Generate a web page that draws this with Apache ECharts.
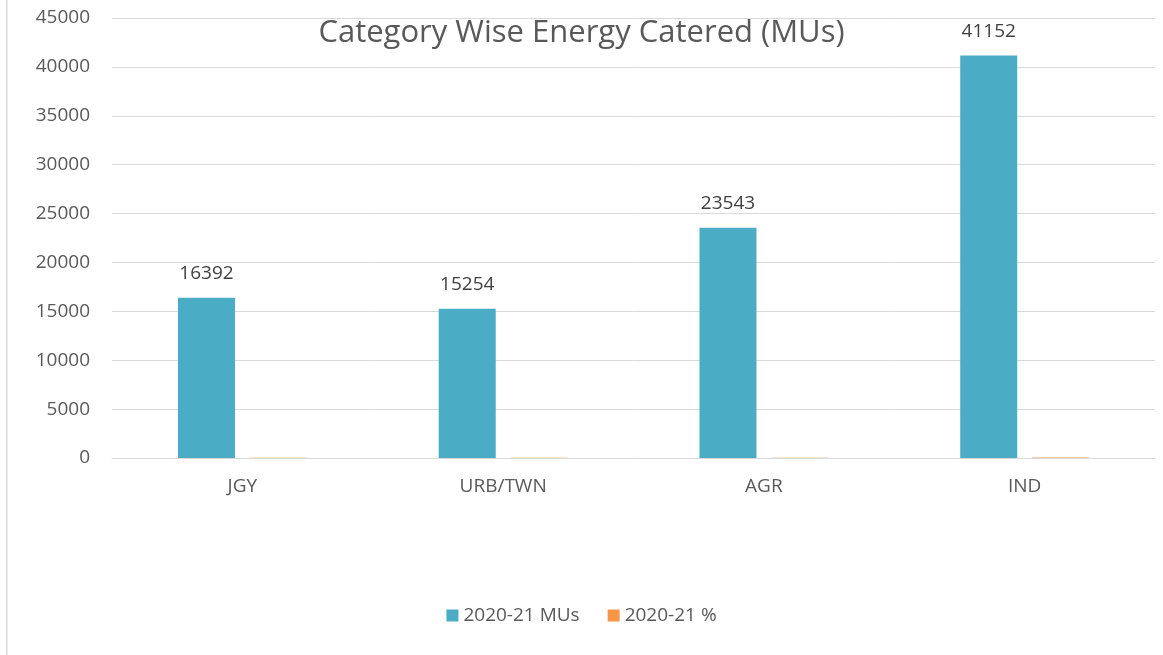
<!DOCTYPE html>
<html>
<head>
<meta charset="utf-8">
<script src="https://cdn.jsdelivr.net/npm/echarts@6/dist/echarts.min.js"></script>
<style>
  html, body { margin: 0; padding: 0; background: #fff; }
  #EnergyChart { width: 1163px; height: 655px; }
</style>
</head>
<body>
<div id="EnergyChart"></div>
<script>
// data
var categories = ['JGY', 'URB/TWN', 'AGR', 'IND'];
var musValues = [16392, 15254, 23543, 41152];
var pctValues = [17.0, 15.8, 24.4, 42.7];
var yTicks = [0, 5000, 10000, 15000, 20000, 25000, 30000, 35000, 40000, 45000];

var EnergyChart = echarts.init(document.getElementById('EnergyChart'));
var fontFam = '"Open Sans", "Noto Sans", sans-serif';

var optionEnergy = {
    animation: false,
    title: {
        text: 'Category Wise Energy Catered (MUs)',
        left: 'center',
        top: 13,
        textStyle: {
            color: '#595959',
            fontSize: 31,
            fontWeight: 'normal',
            fontFamily: fontFam
        }
    },
    color: ['#4bacc6', '#f79646'],
    legend: {
        bottom: 25,
        left: 'center',
        itemWidth: 12,
        itemHeight: 12,
        itemGap: 28,
        icon: 'rect',
        textStyle: {
            color: '#595959',
            fontSize: 19,
            fontFamily: fontFam
        },
        data: ['2020-21 MUs', '2020-21 %']
    },
    grid: {
        left: 112,
        right: 8,
        top: 18,
        bottom: 197
    },
    xAxis: {
        type: 'category',
        data: categories,
        axisTick: { show: false },
        axisLine: { lineStyle: { color: '#d9d9d9' } },
        axisLabel: {
            margin: 19,
            color: '#595959',
            fontSize: 19,
            fontFamily: fontFam
        }
    },
    yAxis: {
        type: 'value',
        min: yTicks[0],
        max: yTicks[yTicks.length - 1],
        interval: 5000,
        axisLine: { show: false },
        axisTick: { show: false },
        splitLine: { lineStyle: { color: '#d9d9d9' } },
        axisLabel: {
            margin: 22,
            color: '#595959',
            fontSize: 19,
            fontFamily: fontFam,
            formatter: function (v) { return String(v); }
        }
    },
    graphic: [
        {
            type: 'rect',
            shape: { x: 6, y: 0, width: 1.5, height: 655 },
            style: { fill: '#d9d9d9' },
            silent: true
        }
    ],
    series: [
        {
            name: '2020-21 MUs',
            type: 'bar',
            barWidth: 57,
            barGap: '26%',
            data: musValues,
            label: {
                show: true,
                position: 'top',
                distance: 15,
                color: '#404040',
                fontSize: 19,
                fontFamily: fontFam
            }
        },
        {
            name: '2020-21 %',
            type: 'bar',
            barWidth: 57,
            data: pctValues,
            label: { show: false }
        }
    ]
};
EnergyChart.setOption(optionEnergy);
</script>
</body>
</html>
